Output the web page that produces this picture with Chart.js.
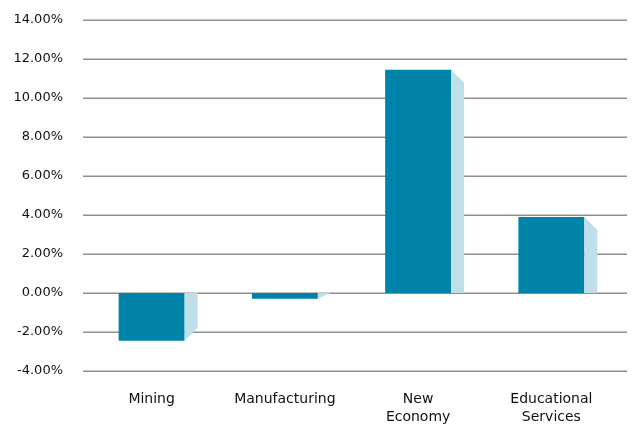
<!DOCTYPE html>
<html>
<head>
<meta charset="utf-8">
<script src="https://cdn.jsdelivr.net/npm/chart.js@4/dist/chart.umd.min.js"></script>
<style>
  html, body { margin: 0; padding: 0; background: #fff; }
  #wrap { width: 632px; height: 424px; position: relative; }
</style>
</head>
<body>
<div id="wrap"><canvas id="c" width="632" height="424"></canvas></div>
<script>
const categories = ['Mining', 'Manufacturing', ['New', 'Economy'], ['Educational', 'Services']];
const growthValues = [-2.45, -0.3, 11.45, 3.9];
const yTickMin = -4;
const yTickMax = 14;
const yTickStep = 2;

const FRONT = '#0083a8';
const SIDE = '#bfe0e8';
const DEPTH = 13;

const gridPlugin = {
  id: 'extGrid',
  beforeDatasetsDraw(chart) {
    const ctx = chart.ctx;
    const ys = chart.scales.y;
    ctx.save();
    ctx.strokeStyle = '#8f8f8f';
    ctx.lineWidth = 1.6;
    ys.ticks.forEach(t => {
      const y = Math.round(ys.getPixelForValue(t.value)) + 0.3;
      ctx.beginPath();
      ctx.moveTo(83, y);
      ctx.lineTo(627, y);
      ctx.stroke();
    });
    ctx.restore();
  }
};

const sidePlugin = {
  id: 'sideFace',
  afterDatasetsDraw(chart) {
    const ctx = chart.ctx;
    const meta = chart.getDatasetMeta(0);
    ctx.save();
    ctx.fillStyle = SIDE;
    meta.data.forEach(bar => {
      const p = bar.getProps(['x', 'y', 'base', 'width'], true);
      const R = p.x + p.width / 2;
      const top = Math.min(p.y, p.base);
      const bot = Math.max(p.y, p.base);
      const h = bot - top;
      const d = Math.min(DEPTH, h);
      ctx.beginPath();
      if (p.y <= p.base) {
        ctx.moveTo(R, top);
        ctx.lineTo(R + DEPTH, top + d);
        ctx.lineTo(R + DEPTH, bot);
        ctx.lineTo(R, bot);
      } else {
        ctx.moveTo(R, top);
        ctx.lineTo(R + DEPTH, top);
        ctx.lineTo(R + DEPTH, bot - d);
        ctx.lineTo(R, bot);
      }
      ctx.closePath();
      ctx.fill();
    });
    ctx.restore();
  }
};

new Chart(document.getElementById('c'), {
  type: 'bar',
  data: {
    labels: categories,
    datasets: [{
      data: growthValues,
      backgroundColor: FRONT,
      borderWidth: 0,
      barPercentage: 0.495,
      categoryPercentage: 1.0
    }]
  },
  options: {
    responsive: false,
    animation: false,
    devicePixelRatio: 1,
    layout: { padding: { top: 20, right: 14, left: 0, bottom: 0 } },
    plugins: { legend: { display: false }, tooltip: { enabled: false } },
    scales: {
      x: {
        grid: { display: false, drawTicks: false },
        border: { display: false },
        ticks: {
          color: '#111',
          font: { family: 'DejaVu Sans', size: 14, lineHeight: 1.25 },
          padding: 20,
          maxRotation: 0,
          autoSkip: false
        },
        afterFit(scale) { scale.height = 53; scale.paddingLeft = 0; scale.paddingRight = 0; }
      },
      y: {
        min: yTickMin,
        max: yTickMax,
        grid: { display: false, drawTicks: false },
        border: { display: false },
        ticks: {
          stepSize: yTickStep,
          color: '#111',
          font: { family: 'DejaVu Sans', size: 13 },
          padding: 22,
          callback: v => v.toFixed(2) + '%'
        },
        afterFit(scale) { scale.width = 85; scale.paddingTop = 0; scale.paddingBottom = 0; }
      }
    }
  },
  plugins: [gridPlugin, sidePlugin]
});
</script>
</body>
</html>
